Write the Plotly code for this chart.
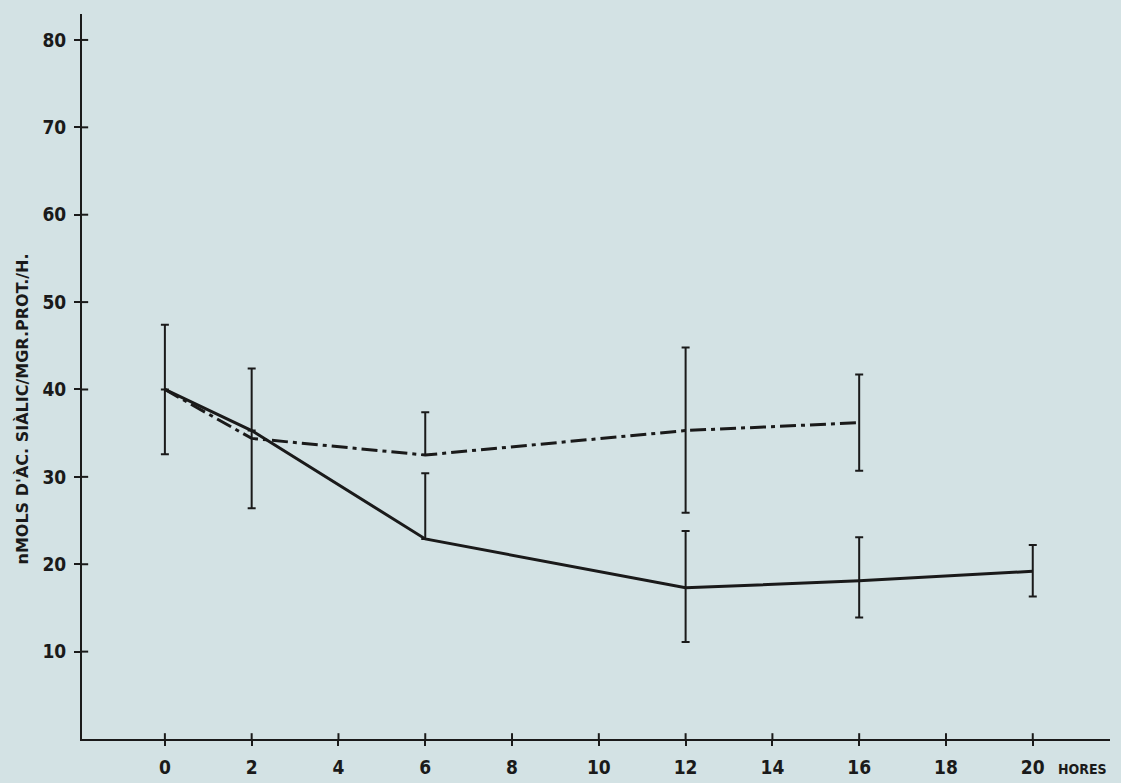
import plotly.graph_objects as go

# Data
hours_solid = [0, 2, 6, 12, 16, 20]
solid_vals = [40.0, 35.3, 22.9, 17.3, 18.1, 19.2]
solid_err_plus = [7.4, 0, 7.5, 6.5, 5.0, 3.0]
solid_err_minus = [7.4, 0, 0, 6.2, 4.2, 2.9]

hours_dash = [0, 2, 6, 12, 16]
dash_vals = [40.0, 34.4, 32.5, 35.3, 36.2]
dash_err_plus = [0, 8.0, 4.9, 9.5, 5.5]
dash_err_minus = [0, 8.0, 0, 9.4, 5.5]

x_ticks = [0, 2, 4, 6, 8, 10, 12, 14, 16, 18, 20]
y_ticks = [10, 20, 30, 40, 50, 60, 70, 80]

ink = "#1a1a1a"
bg = "#d3e2e4"
font_fam = "DejaVu Sans Condensed, sans-serif"

fig = go.Figure()
fig.add_trace(go.Scatter(
    x=hours_solid, y=solid_vals, mode="lines",
    line=dict(color=ink, width=3),
    error_y=dict(type="data", symmetric=False, array=solid_err_plus,
                 arrayminus=solid_err_minus, color=ink, thickness=2, width=4),
    showlegend=False))
fig.add_trace(go.Scatter(
    x=hours_dash, y=dash_vals, mode="lines",
    line=dict(color=ink, width=3, dash="16px,5px,4px,5px"),
    error_y=dict(type="data", symmetric=False, array=dash_err_plus,
                 arrayminus=dash_err_minus, color=ink, thickness=2, width=4),
    showlegend=False))

# inner halves of the crossing tick marks
shapes = []
for t in x_ticks:
    shapes.append(dict(type="line", xref="x", yref="y domain", x0=t, x1=t,
                       y0=0, y1=0.008, line=dict(color=ink, width=2)))
for t in y_ticks:
    shapes.append(dict(type="line", xref="x domain", yref="y", x0=0, x1=0.006,
                       y0=t, y1=t, line=dict(color=ink, width=2)))

fig.update_layout(
    width=1121, height=783,
    paper_bgcolor=bg, plot_bgcolor=bg,
    margin=dict(l=82, r=11, t=14, b=44, autoexpand=False),
    shapes=shapes,
    font=dict(family=font_fam, color=ink),
    xaxis=dict(range=[-1.91, 21.78], tickvals=x_ticks, ticktext=[str(v) for v in x_ticks],
               showgrid=False, zeroline=False, showline=True, linecolor=ink, linewidth=2,
               ticks="outside", ticklen=5, tickwidth=2, tickcolor=ink, automargin=False,
               tickfont=dict(size=19, family=font_fam, color=ink, weight="bold"),
               ticklabelstandoff=5),
    yaxis=dict(range=[0, 82.97], tickvals=y_ticks, ticktext=[str(v) for v in y_ticks],
               showgrid=False, zeroline=False, showline=True, linecolor=ink, linewidth=2,
               ticks="outside", ticklen=6, tickwidth=2, tickcolor=ink, automargin=False,
               tickfont=dict(size=19, family=font_fam, color=ink, weight="bold"),
               ticklabelstandoff=4),
    annotations=[
        dict(text="<b>HORES</b>", xref="paper", yref="paper", x=0.999, y=0,
             xanchor="right", yanchor="top", yshift=-20, showarrow=False,
             font=dict(size=14, family=font_fam, color=ink)),
        dict(text="<b>nMOLS D'ÀC. SIÀLIC/MGR.PROT./H.</b>", xref="paper", yref="paper",
             x=-0.058, y=0.455, xanchor="center", yanchor="middle", textangle=-90,
             showarrow=False,
             font=dict(size=16, family="DejaVu Sans, sans-serif", color=ink)),
    ],
)

fig.write_html(
    "out.html",
    config={"displayModeBar": False},
    post_script="document.body.style.margin='0';document.body.style.background='%s';" % bg,
)
